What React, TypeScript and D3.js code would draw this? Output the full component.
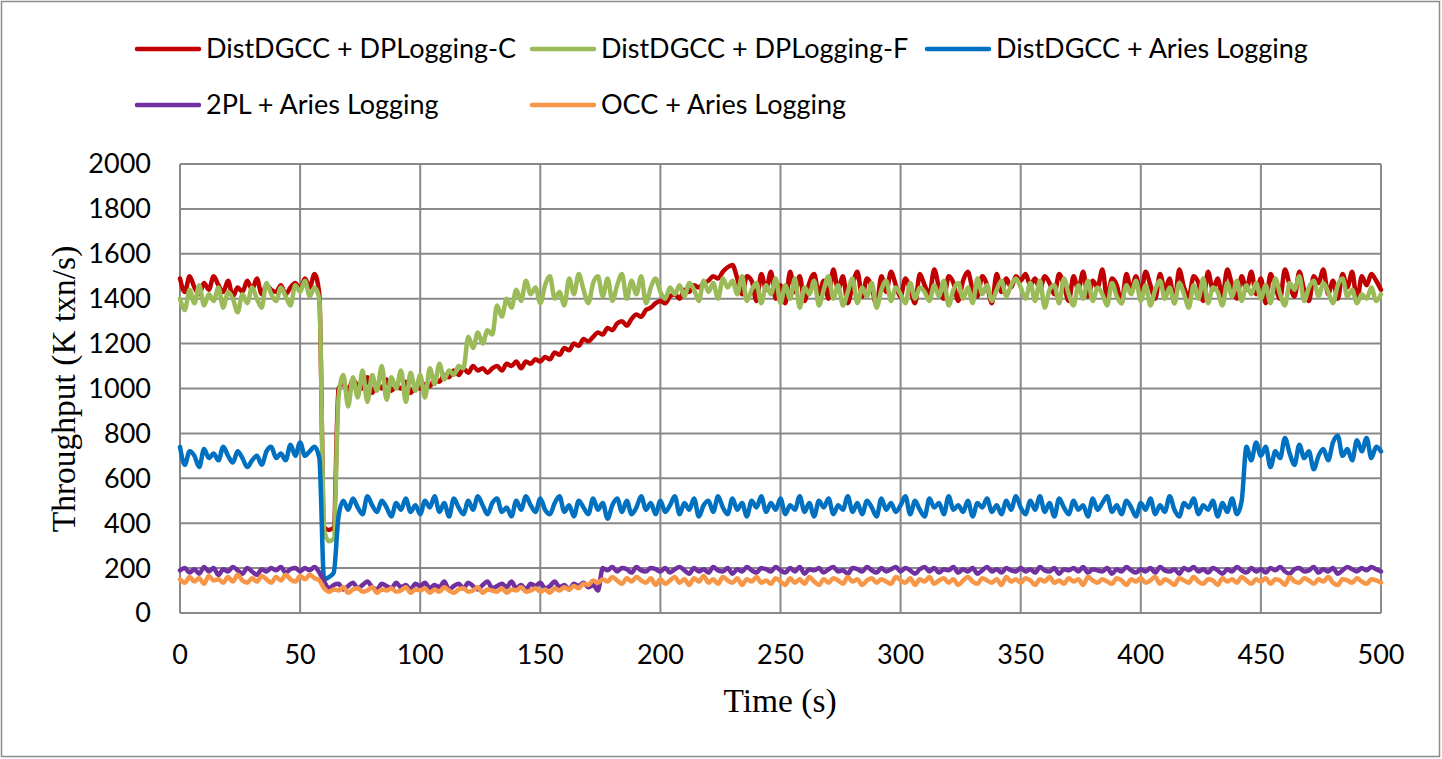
import { useEffect, useRef } from 'react';
import * as d3 from 'd3';

// sampled every 2 s, 0..500
const TIME = d3.range(0, 501, 2);

const SERIES_NAMES = [
  'DistDGCC + DPLogging-C',
  'DistDGCC + DPLogging-F',
  'DistDGCC + Aries Logging',
  '2PL + Aries Logging',
  'OCC + Aries Logging',
];
const SERIES_COLORS = ['#C00000', '#9BBB59', '#0070C0', '#7030A0', '#F79646'];

const dpLoggingC = [
  1490, 1430, 1500, 1450, 1420, 1470, 1440, 1500, 1460, 1430, 1480, 1410, 1450, 1430, 1480, 1440, 1490, 1420, 1460, 1440, 1430, 1460, 1420, 1450, 1470,
  1440, 1490, 1450, 1510, 1420,
  380, 370, 380, 1000, 1020, 990, 1040, 1010, 1000, 1050, 980, 1020, 1000, 1040, 990, 1010, 1000, 1030, 980, 1010,
  1000, 1020, 1010, 1040, 1030, 1060, 1050, 1080, 1060, 1090, 1070, 1100, 1080, 1090, 1070, 1090, 1100, 1080, 1110, 1100, 1120, 1090, 1120, 1110, 1130,
  1120, 1140, 1130, 1160, 1150, 1180, 1170, 1200, 1190, 1220, 1210, 1230, 1250, 1240, 1270, 1260, 1290, 1300, 1280, 1310, 1330, 1320, 1350, 1360, 1380,
  1390, 1380, 1410, 1420, 1400, 1440, 1430, 1460, 1450, 1470, 1480, 1500, 1490, 1520, 1540, 1550, 1490, 1420, 1500, 1480, 1390, 1510, 1440, 1520, 1400,
  1460, 1380, 1520, 1430, 1500, 1390, 1470, 1510, 1420, 1480, 1400, 1530, 1440, 1500, 1380, 1460, 1520, 1410, 1490, 1450, 1370, 1500, 1430, 1520, 1460,
  1410, 1490, 1440, 1380, 1510, 1460, 1420, 1530, 1450, 1400, 1500, 1470, 1390, 1480, 1520, 1440, 1410, 1500, 1460, 1380, 1510, 1430, 1490, 1450, 1500,
  1480, 1510, 1460, 1490, 1440, 1500, 1470, 1420, 1510, 1460, 1390, 1500, 1440, 1520, 1410, 1480, 1450, 1530, 1400, 1490, 1460, 1380, 1510, 1440, 1500,
  1420, 1520, 1460, 1400, 1510, 1440, 1490, 1380, 1530, 1450, 1410, 1500, 1470, 1390, 1520, 1440, 1490, 1410, 1530, 1460, 1400, 1500, 1440, 1520, 1420,
  1490, 1380, 1510, 1450, 1400, 1530, 1460, 1410, 1520, 1440, 1390, 1500, 1470, 1530, 1420, 1480, 1400, 1510, 1450, 1520, 1390, 1500, 1460, 1510, 1480, 1440,
];

const dpLoggingF = [
  1400, 1350, 1440, 1380, 1460, 1370, 1420, 1390, 1450, 1360, 1430, 1400, 1340, 1420, 1380, 1450, 1400, 1360, 1470, 1420, 1390, 1450, 1410, 1370, 1460,
  1430, 1480, 1410, 1450, 1400,
  370, 320, 330, 960, 1060, 920, 1050, 960, 1080, 940, 1060, 990, 1100, 950, 1050, 1000, 1080, 940, 1070, 990,
  1060, 960, 1090, 1020, 1110, 1040, 1080, 1060, 1100, 1090, 1230, 1180, 1250, 1200, 1260, 1240, 1370, 1320, 1400, 1360, 1440, 1390, 1480, 1420, 1450,
  1380, 1460, 1500, 1400, 1430, 1370, 1490, 1420, 1510, 1440, 1380, 1470, 1500, 1410, 1490, 1390, 1460, 1510, 1400, 1480, 1420, 1500, 1380, 1450, 1490,
  1430, 1400, 1450, 1420, 1460, 1410, 1470, 1440, 1390, 1480, 1430, 1470, 1400, 1490, 1450, 1480, 1420, 1500, 1390, 1440, 1470, 1380, 1460, 1420, 1490,
  1380, 1460, 1400, 1490, 1360, 1450, 1420, 1480, 1370, 1440, 1500, 1400, 1460, 1370, 1430, 1490, 1380, 1450, 1410, 1470, 1360, 1440, 1480, 1390, 1450,
  1420, 1380, 1470, 1400, 1450, 1430, 1390, 1460, 1410, 1480, 1370, 1440, 1470, 1400, 1450, 1380, 1490, 1420, 1460, 1390, 1440, 1480, 1410, 1460, 1490,
  1450, 1400, 1470, 1390, 1480, 1360, 1440, 1460, 1380, 1490, 1420, 1370, 1460, 1400, 1480, 1390, 1450, 1420, 1370, 1470, 1410, 1380, 1460, 1420, 1480,
  1390, 1460, 1370, 1440, 1480, 1400, 1450, 1380, 1470, 1420, 1360, 1460, 1400, 1490, 1380, 1450, 1430, 1370, 1470, 1410, 1480, 1390, 1460, 1420, 1470,
  1400, 1460, 1380, 1490, 1420, 1370, 1470, 1440, 1500, 1390, 1450, 1480, 1410, 1470, 1430, 1380, 1460, 1490, 1410, 1440, 1380, 1420, 1400, 1450, 1390, 1420,
];

const distAries = [
  740, 660, 720, 700, 650, 730, 690, 710, 680, 740, 700, 670, 720, 690, 650, 680, 700, 660, 720, 740, 690, 710, 680, 750, 700,
  760, 700, 720, 740, 690,
  150, 160, 180, 430, 500, 460, 510, 470, 440, 520, 480, 450, 500, 470, 430, 490, 460, 510, 450, 480,
  440, 500, 470, 520, 450, 490, 430, 510, 470, 440, 500, 460, 520, 480, 440, 490, 510, 450, 470, 430, 500, 460, 520, 480, 450,
  510, 460, 440, 490, 520, 450, 480, 430, 500, 470, 440, 510, 460, 490, 420, 480, 510, 450, 500, 440, 470, 520, 460, 490, 440,
  500, 450, 480, 520, 440, 490, 460, 510, 430, 480, 500, 450, 520, 470, 440, 510, 460, 490, 430, 500, 470, 520, 450, 490, 460,
  510, 440, 480, 460, 520, 450, 490, 430, 500, 470, 510, 440, 480, 460, 520, 450, 490, 440, 500, 470, 430, 510, 460, 490, 450,
  480, 520, 440, 500, 460, 430, 510, 470, 490, 440, 520, 460, 480, 450, 500, 430, 490, 470, 510, 450, 480, 440, 500, 460, 520,
  470, 440, 500, 460, 520, 450, 490, 430, 510, 470, 440, 500, 460, 480, 430, 510, 460, 490, 520, 450, 480, 440, 500, 470, 430,
  490, 460, 510, 440, 480, 450, 520, 460, 430, 490, 470, 510, 440, 480, 460, 500, 430, 490, 450, 510, 440, 500, 740, 680, 760,
  700, 740, 650, 720, 690, 780, 710, 660, 750, 690, 720, 640, 700, 730, 680, 760, 790, 700, 730, 680, 770, 720, 780, 690, 740, 720,
];

const twoPL = [
  190, 200, 180, 195, 175, 205, 185, 200, 170, 195, 185, 205, 190, 175, 200, 185, 170, 195, 185, 200, 190, 205, 180, 195, 200,
  185, 200, 190, 205, 180,
  140, 110, 125, 130, 105, 120, 135, 110, 125, 140, 115, 105, 130, 120, 110, 135, 115, 125, 105, 130,
  120, 135, 110, 125, 115, 140, 105, 120, 130, 110, 135, 120, 105, 125, 140, 110, 120, 130, 115, 140, 110, 125, 105, 130, 120,
  135, 110, 120, 140, 115, 125, 105, 130, 120, 135, 115, 125, 100, 200, 190, 205, 185, 200, 195, 180, 205, 190, 185, 200, 195,
  185, 200, 180, 195, 205, 190, 175, 200, 185, 195, 180, 205, 190, 185, 200, 175, 195, 185, 205, 190, 180, 200, 195, 185, 205,
  190, 180, 200, 185, 205, 175, 195, 190, 200, 180, 195, 205, 185, 190, 175, 200, 195, 185, 205, 190, 180, 200, 185, 195, 205,
  185, 200, 190, 175, 195, 205, 185, 200, 180, 195, 190, 205, 180, 195, 185, 200, 175, 190, 205, 185, 195, 180, 200, 190, 185,
  200, 185, 195, 180, 205, 190, 185, 200, 175, 195, 190, 200, 185, 205, 180, 195, 190, 185, 200, 175, 195, 185, 205, 190, 180,
  195, 185, 200, 180, 205, 190, 185, 195, 175, 200, 190, 205, 185, 195, 180, 200, 190, 175, 195, 185, 205, 190, 180, 200, 185,
  195, 180, 200, 190, 205, 185, 175, 195, 200, 185, 190, 205, 180, 195, 185, 200, 175, 190, 205, 195, 185, 200, 190, 205, 195, 185,
];

const occ = [
  150, 135, 160, 140, 155, 130, 165, 145, 150, 135, 160, 140, 170, 145, 135, 155, 140, 165, 150, 135, 160, 145, 170, 150, 140,
  165, 150, 170, 155, 145,
  110, 95, 105, 100, 115, 90, 105, 110, 95, 100, 115, 90, 105, 100, 110, 95, 100, 115, 90, 105,
  100, 110, 90, 105, 95, 115, 100, 90, 105, 110, 95, 100, 115, 90, 105, 100, 95, 110, 90, 105, 100, 115, 95, 100, 110,
  95, 105, 90, 110, 100, 115, 105, 120, 110, 130, 125, 145, 135, 150, 140, 160, 145, 130, 155, 140, 160, 145, 135, 155, 125,
  150, 130, 145, 160, 135, 150, 125, 155, 140, 165, 135, 150, 130, 160, 145, 135, 155, 125, 150, 140, 160, 135, 145, 130, 155,
  140, 125, 155, 135, 150, 130, 160, 140, 125, 150, 135, 155, 145, 130, 160, 140, 150, 125, 145, 155, 135, 150, 140, 130, 160,
  145, 135, 155, 125, 150, 140, 160, 130, 145, 155, 135, 150, 125, 145, 160, 140, 130, 155, 145, 135, 150, 125, 160, 140, 150,
  135, 155, 145, 125, 150, 140, 160, 135, 145, 130, 155, 140, 150, 125, 160, 145, 135, 150, 140, 130, 155, 145, 125, 150, 140,
  155, 135, 145, 160, 130, 150, 140, 125, 155, 145, 135, 160, 140, 130, 150, 145, 125, 155, 140, 150, 135, 160, 145, 130, 150,
  140, 155, 130, 150, 145, 125, 160, 140, 135, 155, 145, 130, 150, 140, 160, 135, 125, 150, 145, 135, 155, 140, 130, 150, 145, 135,
];

const SERIES_VALUES = [dpLoggingC, dpLoggingF, distAries, twoPL, occ];
const X_TICKS = d3.range(0, 501, 50);
const Y_TICKS = d3.range(0, 2001, 200);

export default function App() {
  const svgRef = useRef<SVGSVGElement>(null);

  useEffect(() => {
    if (!svgRef.current) return;
    const svg = d3.select(svgRef.current);
    svg.selectAll('*').remove();

    const W = 1442, H = 759;
    svg.attr('width', W).attr('height', H);

    const sans = 'Lato, "Open Sans", sans-serif';
    const serif = '"Liberation Serif", "DejaVu Serif", serif';
    const grid = '#898989';
    const fs = 27;

    svg.append('rect')
      .attr('x', 1.5).attr('y', 1.5).attr('width', W - 4).attr('height', H - 4)
      .attr('fill', '#fff').attr('stroke', '#8c8c8c').attr('stroke-width', 1.5);

    const margin = { left: 180, right: 1381, top: 164, bottom: 613 };
    const x = d3.scaleLinear().domain([0, 500]).range([margin.left, margin.right]);
    const y = d3.scaleLinear().domain([0, 2000]).range([margin.bottom, margin.top]);

    // gridlines
    svg.append('g').selectAll('line').data(Y_TICKS).enter().append('line')
      .attr('x1', x(0)).attr('x2', x(500))
      .attr('y1', d => y(d)).attr('y2', d => y(d))
      .attr('stroke', grid).attr('stroke-width', 2);
    svg.append('g').selectAll('line').data(X_TICKS).enter().append('line')
      .attr('y1', y(0)).attr('y2', y(2000))
      .attr('x1', d => x(d)).attr('x2', d => x(d))
      .attr('stroke', grid).attr('stroke-width', 2);

    // tick labels
    svg.append('g').selectAll('text').data(Y_TICKS).enter().append('text')
      .attr('x', 151).attr('y', d => y(d)).attr('dy', '0.35em')
      .attr('text-anchor', 'end').attr('font-family', sans).attr('font-size', fs)
      .attr('fill', '#000').text(d => d);
    svg.append('g').selectAll('text').data(X_TICKS).enter().append('text')
      .attr('x', d => x(d)).attr('y', 655).attr('dy', '0.35em')
      .attr('text-anchor', 'middle').attr('font-family', sans).attr('font-size', fs)
      .attr('fill', '#000').text(d => d);

    // axis titles
    svg.append('text')
      .attr('transform', 'translate(63,389) rotate(-90)')
      .attr('text-anchor', 'middle').attr('dy', '0.35em')
      .attr('font-family', serif).attr('font-size', 33.5)
      .text('Throughput (K txn/s)');
    svg.append('text')
      .attr('x', 780).attr('y', 700).attr('dy', '0.35em')
      .attr('text-anchor', 'middle')
      .attr('font-family', serif).attr('font-size', 33.5)
      .text('Time (s)');

    // lines
    const line = d3.line<number>()
      .x((_, i) => x(TIME[i]))
      .y(d => y(d))
      .curve(d3.curveMonotoneX);

    svg.append('g').selectAll('path').data(SERIES_VALUES).enter().append('path')
      .attr('d', d => line(d))
      .attr('fill', 'none')
      .attr('stroke', (_, i) => SERIES_COLORS[i])
      .attr('stroke-width', 4.5)
      .attr('stroke-linejoin', 'round')
      .attr('stroke-linecap', 'round');

    // legend
    const legendPos = [
      { x: 137, y: 49 }, { x: 532, y: 49 }, { x: 927, y: 49 },
      { x: 137, y: 105 }, { x: 532, y: 105 },
    ];
    const lg = svg.append('g').selectAll('g').data(SERIES_NAMES).enter().append('g')
      .attr('transform', (_, i) => `translate(${legendPos[i].x},${legendPos[i].y})`);
    lg.append('line')
      .attr('x1', 0).attr('x2', 62).attr('y1', 0).attr('y2', 0)
      .attr('stroke', (_, i) => SERIES_COLORS[i]).attr('stroke-width', 4.5)
      .attr('stroke-linecap', 'round');
    lg.append('text')
      .attr('x', 69).attr('y', 0).attr('dy', '0.35em')
      .attr('font-family', sans).attr('font-size', fs).attr('fill', '#000')
      .text(d => d);
  }, []);

  return (
    <div style={{ position: 'absolute', left: 0, top: 0 }}>
      <svg ref={svgRef} style={{ display: 'block' }} />
    </div>
  );
}
